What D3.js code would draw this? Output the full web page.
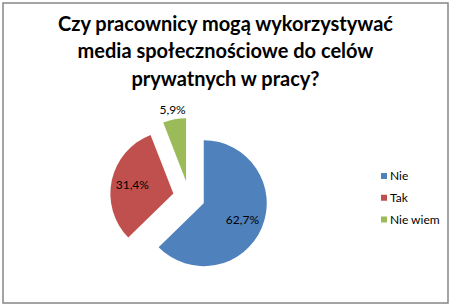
<!DOCTYPE html>
<html>
<head>
<meta charset="utf-8">
<script src="https://cdn.jsdelivr.net/npm/d3@7"></script>
<style>
  body { margin: 0; background: #fff; }
  svg { display: block; font-family: Lato, "Open Sans", sans-serif; }
</style>
</head>
<body>
<svg id="chart" width="451" height="307"></svg>
<script>
// data
var categories = ["Nie", "Tak", "Nie wiem"];
var values = [62.7, 31.4, 5.9];
var valueLabels = ["62,7%", "31,4%", "5,9%"];
var colors = ["#4F81BD", "#C0504D", "#9BBB59"];
var titleLines = ["Czy pracownicy mogą wykorzystywać", "media społecznościowe do celów", "prywatnych w pracy?"];

var svg = d3.select("#chart");
var width = +svg.attr("width"), height = +svg.attr("height");

// outer frame
svg.append("rect")
    .attr("x", 3).attr("y", 3)
    .attr("width", width - 6).attr("height", height - 7)
    .attr("fill", "#fff")
    .attr("stroke", "#868686")
    .attr("stroke-width", 1.5);

// title
svg.append("text")
    .attr("text-anchor", "middle")
    .attr("font-weight", "bold")
    .attr("font-size", 20)
    .attr("fill", "#000")
    .selectAll("tspan")
    .data(titleLines)
    .enter().append("tspan")
    .attr("x", 225.5)
    .attr("y", function (d, i) { return 31 + i * 27.3; })
    .text(function (d) { return d; });

// pie
var cx = 189, cy = 197, radius = 63, explode = 16;
var pie = d3.pie().sort(null).value(function (d) { return d; });
var arcs = pie(values);
var arc = d3.arc().innerRadius(0).outerRadius(radius);
var dirArc = d3.arc().innerRadius(1).outerRadius(1);
var inLabelArc = d3.arc().innerRadius(42).outerRadius(42);
var outLabelArc = d3.arc().innerRadius(73).outerRadius(73);

var g = svg.append("g").attr("transform", "translate(" + cx + "," + cy + ")");

var slices = g.selectAll("g.slice")
    .data(arcs)
    .enter().append("g")
    .attr("class", "slice")
    .attr("transform", function (d) {
        var c = dirArc.centroid(d);
        return "translate(" + c[0] * explode + "," + c[1] * explode + ")";
    });

slices.append("path")
    .attr("d", arc)
    .attr("fill", function (d, i) { return colors[i]; });

slices.append("text")
    .attr("transform", function (d) {
        var p = d.data < 10 ? outLabelArc.centroid(d) : inLabelArc.centroid(d);
        return "translate(" + p + ")";
    })
    .attr("text-anchor", "middle")
    .attr("dy", "0.35em")
    .attr("font-size", 12)
    .attr("fill", "#000")
    .text(function (d, i) { return valueLabels[i]; });

// legend
var ly = d3.scalePoint().domain(categories).range([176, 219.5]);
var legend = svg.append("g").selectAll("g")
    .data(categories)
    .enter().append("g")
    .attr("transform", function (d) { return "translate(381," + ly(d) + ")"; });

legend.append("rect")
    .attr("x", 0).attr("y", -3)
    .attr("width", 6).attr("height", 6)
    .attr("fill", function (d, i) { return colors[i]; });

legend.append("text")
    .attr("x", 9)
    .attr("dy", "0.35em")
    .attr("font-size", 12)
    .attr("fill", "#000")
    .text(function (d) { return d; });
</script>
</body>
</html>
